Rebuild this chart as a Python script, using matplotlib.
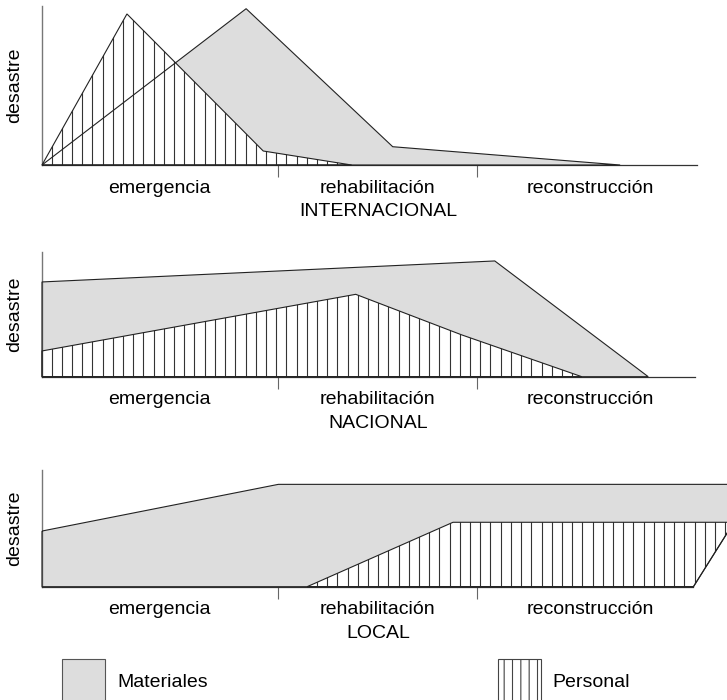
import numpy as np
import matplotlib.pyplot as plt
from matplotlib.patches import Polygon, Patch

plt.rcParams['font.family'] = ['Liberation Sans', 'DejaVu Sans']
plt.rcParams['hatch.linewidth'] = 0.8

#------------ DATA (x: tiempo 0-100, y: intensidad 0-100) ------------
phases = ["emergencia", "rehabilitación", "reconstrucción"]
phase_centers = [17.1, 49.0, 80.0]
phase_limits = [34.4, 63.5]
titles = ["INTERNACIONAL", "NACIONAL", "LOCAL"]

mat_int_x = [0, 29.8, 51.2, 84.4]
mat_int_y = [0, 98.3, 11.5, 0]
per_int_x = [0, 12.4, 32.3, 45.2]
per_int_y = [0, 95.0, 8.8, 0]

mat_nac_x = [0, 66.1, 88.5, 0]
mat_nac_y = [75.8, 92.6, 0, 0]
per_nac_x = [0, 45.8, 61.3, 78.8, 0]
per_nac_y = [20.6, 65.9, 33.4, 0, 0]

mat_loc_x = [0, 34.5, 104.5, 95.1, 0]
mat_loc_y = [47.7, 87.7, 87.7, 0, 0]
per_loc_x = [38.7, 60.0, 101.0, 95.1]
per_loc_y = [0, 55.2, 55.2, 0]

baseline_end = [95.6, 95.3, 95.1]

#------------ LAYOUT ------------
W, H = 727, 700
left_px = 42
panels_px = [(165, 159), (376.7, 125), (586.7, 116.7)]  # baseline, height
gray = "#dddddd"

fig = plt.figure(figsize=(W / 100, H / 100), dpi=100)

levels = [
    (mat_int_x, mat_int_y, per_int_x, per_int_y),
    (mat_nac_x, mat_nac_y, per_nac_x, per_nac_y),
    (mat_loc_x, mat_loc_y, per_loc_x, per_loc_y),
]

for i, (mx, my, px, py) in enumerate(levels):
    base, hgt = panels_px[i]
    ax = fig.add_axes([left_px / W, (H - base) / H, (W - left_px) / W, hgt / H])
    ax.set_xlim(0, 100)
    ax.set_ylim(0, 100)

    mat_fill = Polygon(np.column_stack([mx, my]), closed=True, facecolor=gray,
                       edgecolor="none", zorder=1, clip_on=False)
    ax.add_patch(mat_fill)
    per_fill = Polygon(np.column_stack([px, py]), closed=True, facecolor="white",
                       edgecolor="none", zorder=2, clip_on=False)
    ax.add_patch(per_fill)
    hatch_x = np.arange(1.4, 110, 1.49)
    lc = ax.vlines(hatch_x, 0, 100, colors="#333333", lw=0.8, zorder=3)
    lc.set_clip_path(per_fill)
    ax.add_patch(Polygon(np.column_stack([px, py]), closed=True, facecolor="none",
                         edgecolor="#222222", lw=0.8, zorder=4, clip_on=False))
    ax.add_patch(Polygon(np.column_stack([mx, my]), closed=True, facecolor="none",
                         edgecolor="#222222", lw=0.8, zorder=5, clip_on=False))

    for s in ["top", "right"]:
        ax.spines[s].set_visible(False)
    ax.spines["left"].set_color("#777777")
    ax.spines["left"].set_linewidth(1.0)
    ax.spines["bottom"].set_color("#333333")
    ax.spines["bottom"].set_linewidth(0.9)
    ax.spines["bottom"].set_bounds(0, baseline_end[i])
    ax.patch.set_visible(False)

    ax.set_yticks([])
    ax.set_xticks(phase_limits)
    ax.set_xticks(phase_centers, minor=True)
    ax.set_xticklabels(phases, minor=True)
    ax.tick_params(axis="x", which="major", direction="out", length=8.6, width=0.8,
                   color="#666666", labelbottom=False)
    ax.tick_params(axis="x", which="minor", length=0, pad=10.5, labelsize=14)

    ax.text((15 - left_px) / (W - left_px), 0.5, "desastre", rotation=90,
            ha="center", va="center", fontsize=14, transform=ax.transAxes)
    ax.annotate(titles[i], xy=(49.05, 0), xycoords=("data", "axes fraction"),
                xytext=(0, -33.8), textcoords="offset points",
                ha="center", va="center", fontsize=14)

handles = [
    Patch(facecolor=gray, edgecolor="#555555", lw=0.8, label="Materiales"),
    Patch(facecolor="white", edgecolor="#444444", lw=0.8, hatch="||", label="Personal"),
]
fs_px = 14 * 100 / 72
fig.legend(handles=handles, loc="upper left", bbox_to_anchor=(62 / W, 1 - 659 / H),
           ncol=2, frameon=False, borderpad=0, borderaxespad=0, fontsize=14,
           handlelength=43 / fs_px, handleheight=62 / fs_px,
           handletextpad=12 / fs_px, columnspacing=290 / fs_px)

plt.savefig("out.png", dpi=100)
